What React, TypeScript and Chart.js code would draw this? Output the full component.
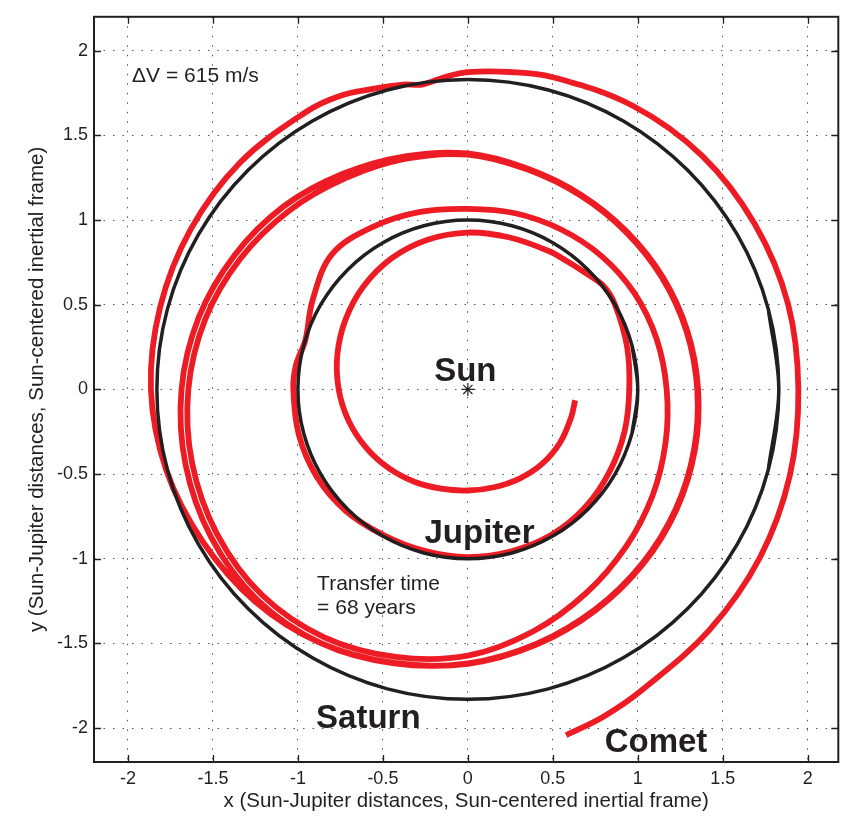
import React, { useEffect, useRef } from 'react';
import { Chart, registerables } from 'chart.js';

Chart.register(...registerables);

// ---------- axis ticks & titles ----------
const xTickValues = [-2, -1.5, -1, -0.5, 0, 0.5, 1, 1.5, 2];
const xTickLabels = ['-2', '-1.5', '-1', '-0.5', '0', '0.5', '1', '1.5', '2'];
const yTickValues = [-2, -1.5, -1, -0.5, 0, 0.5, 1, 1.5, 2];
const yTickLabels = ['-2', '-1.5', '-1', '-0.5', '0', '0.5', '1', '1.5', '2'];
const xAxisTitle = 'x (Sun-Jupiter distances, Sun-centered inertial frame)';
const yAxisTitle = 'y (Sun-Jupiter distances, Sun-centered inertial frame)';

// ---------- bodies / orbits (x, y in Sun-Jupiter distances) ----------
const sunPosition = [[0, 0]];

const jupiterOrbit = [
  [0.966, -0.259], [1, 0], [0.966, 0.259], [0.866, 0.5], [0.707, 0.707], [0.5, 0.866],
  [0.259, 0.966], [0, 1], [-0.259, 0.966], [-0.5, 0.866], [-0.707, 0.707],
  [-0.866, 0.5], [-0.966, 0.259], [-1, 0], [-0.966, -0.259], [-0.866, -0.5],
  [-0.707, -0.707], [-0.5, -0.866], [-0.259, -0.966], [0, -1], [0.259, -0.966],
  [0.5, -0.866], [0.707, -0.707], [0.866, -0.5], [0.966, -0.259], [1, 0], [0.966, 0.259],
];

const saturnOrbit = [
  [1.768, -0.474], [1.83, 0], [1.768, 0.474], [1.585, 0.915], [1.294, 1.294], [0.915, 1.585],
  [0.474, 1.768], [0, 1.83], [-0.474, 1.768], [-0.915, 1.585], [-1.294, 1.294],
  [-1.585, 0.915], [-1.768, 0.474], [-1.83, 0], [-1.768, -0.474], [-1.585, -0.915],
  [-1.294, -1.294], [-0.915, -1.585], [-0.474, -1.768], [0, -1.83], [0.474, -1.768],
  [0.915, -1.585], [1.294, -1.294], [1.585, -0.915], [1.768, -0.474], [1.83, 0], [1.768, 0.474],
];

// ---------- comet trajectory (in travel order) ----------
const cometOuterLoop = [
  [0.578, -2.042], [0.8, -1.931], [1.025, -1.775], [1.421, -1.421], [1.719, -0.9925],
  [1.895, -0.508], [1.945, 0.0], [1.884, 0.505], [1.689, 0.975], [1.379, 1.379],
  [0.9675, 1.676], [0.494, 1.845], [0.247, 1.874], [0.0, 1.873], [-0.129, 1.846],
  [-0.27, 1.8], [-0.383, 1.8], [-0.559, 1.774], [-0.754, 1.733], [-0.948, 1.641],
  [-1.34, 1.34], [-1.632, 0.943], [-1.811, 0.485], [-1.865, 0.0], [-1.775, -0.476],
  [-1.559, -0.9], [-1.252, -1.252], [-0.865, -1.498], [-0.4327, -1.615], [0.0, -1.62],
];

const cometMiddleLoops = [
  [0.4037, -1.507], [0.7525, -1.3033], [1.031, -1.031], [1.228, -0.709], [1.336, -0.358],
  [1.355, 0.0], [1.2914, 0.346], [1.1475, 0.6625], [0.9334, 0.9334], [0.664, 1.15],
  [0.3494, 1.304], [0.0, 1.393], [-0.3688, 1.3764], [-0.735, 1.273], [-1.082, 1.082],
  [-1.3726, 0.7925], [-1.584, 0.4244], [-1.685, 0.0], [-1.661, -0.4451], [-1.5112, -0.8725],
  [-1.241, -1.241], [-0.865, -1.498], [-0.4335, -1.618], [0.0, -1.618],
  [0.4027, -1.503], [0.75, -1.299], [1.0274, -1.0274], [1.2237, -0.7065], [1.331, -0.3566],
  [1.35, 0.0], [1.2866, 0.3447], [1.1431, 0.66], [0.9298, 0.9298], [0.6615, 1.1457],
  [0.3481, 1.2991], [0.0, 1.386], [-0.3649, 1.3619], [-0.72, 1.247], [-1.0536, 1.0536],
  [-1.338, 0.7725], [-1.5454, 0.4141], [-1.645, 0.0], [-1.6227, -0.4348], [-1.4765, -0.8525],
  [-1.2127, -1.2127], [-0.845, -1.4635], [-0.4231, -1.5792], [0.0, -1.572],
];

const cometInnerLoops = [
  [0.383, -1.4295], [0.695, -1.2037], [0.9298, -0.9298], [1.0868, -0.6275], [1.1639, -0.3119],
  [1.17, 0.0], [1.1108, 0.2976], [0.9812, 0.5665], [0.787, 0.787], [0.546, 0.9457],
  [0.2787, 1.0403], [0.0, 1.066], [-0.2808, 1.048], [-0.555, 0.9613], [-0.799, 0.799],
  [-0.9136, 0.5275], [-0.956, 0.292], [-1.012, 0.142], [-1.027, 0.0], [-0.9949, -0.2666],
  [-0.8902, -0.514], [-0.7177, -0.7177], [-0.4965, -0.86], [-0.2554, -0.9534], [0.0, -0.99],
  [0.2562, -0.9562], [0.495, -0.8573], [0.693, -0.693], [0.8357, -0.4825], [0.9224, -0.2472],
  [0.95, 0.0], [0.937, 0.251], [0.866, 0.5], [0.7974, 0.6118], [0.6894, 0.6894],
  [0.5814, 0.7577], [0.4725, 0.8184], [0.2407, 0.8983], [0.0, 0.926], [-0.2368, 0.8838],
  [-0.4475, 0.7751], [-0.6116, 0.6116], [-0.7188, 0.415], [-0.7679, 0.2057], [-0.76, 0.0],
  [-0.7003, -0.1876], [-0.5975, -0.345], [-0.4653, -0.4653], [-0.315, -0.5456], [-0.1571, -0.5863],
  [0.0, -0.597], [0.1548, -0.5776], [0.304, -0.5265], [0.4384, -0.4384], [0.543, -0.3135],
  [0.6085, -0.163], [0.631, -0.064],
];

// ---------- annotations ----------
const annotationTexts = ['\u0394V = 615 m/s', 'Sun', 'Jupiter', 'Saturn', 'Comet', 'Transfer time', '= 68 years'];
const annotationAnchors = [
  [-1.976, 1.814], [-0.015, 0.047], [-0.255, -0.904], [-0.893, -1.999],
  [0.805, -2.14], [-0.887, -1.185], [-0.887, -1.326],
];
const annotationStyles = [
  { font: 'normal 21px', align: 'left' },
  { font: 'bold 33px', align: 'center' },
  { font: 'bold 33px', align: 'left' },
  { font: 'bold 33px', align: 'left' },
  { font: 'bold 33px', align: 'left' },
  { font: 'normal 21px', align: 'left' },
  { font: 'normal 21px', align: 'left' },
];

const FONT = '"Liberation Sans", Arial, Helvetica, sans-serif';
const INK = '#231F20';
const RED = '#ED1C24';

const toXY = (pts: number[][]) => pts.map(([x, y]) => ({ x, y }));

const overlayPlugin = {
  id: 'overlay',
  afterDatasetsDraw(chart: any) {
    const { ctx, chartArea: a, scales } = chart;
    const xs = scales.x;
    const ys = scales.y;
    ctx.save();
    ctx.strokeStyle = INK;
    ctx.lineWidth = 1.3;
    ctx.beginPath();
    xTickValues.forEach((v) => {
      const px = Math.round(xs.getPixelForValue(v)) + 0.5;
      ctx.moveTo(px, a.bottom);
      ctx.lineTo(px, a.bottom - 7);
      ctx.moveTo(px, a.top);
      ctx.lineTo(px, a.top + 7);
    });
    yTickValues.forEach((v) => {
      const py = Math.round(ys.getPixelForValue(v)) + 0.5;
      ctx.moveTo(a.left, py);
      ctx.lineTo(a.left + 7, py);
      ctx.moveTo(a.right, py);
      ctx.lineTo(a.right - 7, py);
    });
    ctx.stroke();
    ctx.lineWidth = 2;
    ctx.strokeRect(a.left, a.top, a.right - a.left, a.bottom - a.top);
    ctx.fillStyle = INK;
    ctx.textBaseline = 'alphabetic';
    annotationTexts.forEach((t, i) => {
      const [dx, dy] = annotationAnchors[i];
      const st = annotationStyles[i];
      ctx.font = `${st.font} ${FONT}`;
      ctx.textAlign = st.align;
      ctx.fillText(t, xs.getPixelForValue(dx), ys.getPixelForValue(dy));
    });
    ctx.restore();
  },
};

export default function App() {
  const canvasRef = useRef<HTMLCanvasElement | null>(null);

  useEffect(() => {
    if (!canvasRef.current) return;
    Chart.defaults.font.family = FONT;
    const chart = new Chart(canvasRef.current, {
      type: 'scatter',
      data: {
        datasets: [
          {
            label: 'Saturn',
            data: toXY(saturnOrbit),
            showLine: true,
            borderColor: INK,
            borderWidth: 3.5,
            pointRadius: 0,
            tension: 0.34,
          },
          {
            label: 'Jupiter',
            data: toXY(jupiterOrbit),
            showLine: true,
            borderColor: INK,
            borderWidth: 3.5,
            pointRadius: 0,
            tension: 0.34,
          },
          {
            label: 'Comet',
            data: toXY([...cometOuterLoop, ...cometMiddleLoops, ...cometInnerLoops]),
            showLine: true,
            borderColor: RED,
            borderWidth: 5.8,
            borderJoinStyle: 'round',
            borderCapStyle: 'butt',
            pointRadius: 0,
            tension: 0.36,
          },
          {
            label: 'Sun',
            data: toXY(sunPosition),
            showLine: false,
            pointStyle: 'star',
            pointRadius: 6.5,
            borderColor: INK,
            backgroundColor: INK,
            borderWidth: 1.2,
          },
        ] as any,
      },
      options: {
        responsive: false,
        animation: false,
        devicePixelRatio: 1,
        events: [],
        layout: { padding: { top: 10, right: 4, left: 0, bottom: 0 } },
        plugins: { legend: { display: false }, tooltip: { enabled: false } },
        scales: {
          x: {
            type: 'linear',
            position: 'bottom',
            min: -2.2,
            max: 2.18,
            afterBuildTicks: (s: any) => {
              s.ticks = xTickValues.map((v) => ({ value: v }));
            },
            afterFit: (s: any) => {
              s.height = 55;
            },
            ticks: {
              callback: (_v: any, i: number) => xTickLabels[i],
              font: { size: 18 },
              color: INK,
              padding: 6,
              maxRotation: 0,
              autoSkip: false,
            },
            grid: { color: '#555', lineWidth: 1, drawTicks: false },
            border: { display: false, dash: [1.5, 8] },
            title: {
              display: true,
              text: xAxisTitle,
              font: { size: 20.5 },
              color: INK,
              padding: { top: 0, bottom: 3 },
            },
          },
          y: {
            type: 'linear',
            position: 'left',
            min: -2.2,
            max: 2.2,
            afterBuildTicks: (s: any) => {
              s.ticks = yTickValues.map((v) => ({ value: v }));
            },
            afterFit: (s: any) => {
              s.width = 94;
            },
            ticks: {
              callback: (_v: any, i: number) => yTickLabels[i],
              font: { size: 18 },
              color: INK,
              padding: 6,
              autoSkip: false,
            },
            grid: { color: '#555', lineWidth: 1, drawTicks: false },
            border: { display: false, dash: [1.5, 8] },
            title: {
              display: true,
              text: yAxisTitle,
              font: { size: 20.5 },
              color: INK,
              padding: { top: 25, bottom: 0 },
            },
          },
        },
      } as any,
      plugins: [overlayPlugin as any],
    });
    return () => chart.destroy();
  }, []);

  return (
    <div style={{ position: 'absolute', left: 0, top: 0, width: 846, height: 817, background: '#fff' }}>
      <canvas ref={canvasRef} width={846} height={817} style={{ display: 'block' }} />
    </div>
  );
}
